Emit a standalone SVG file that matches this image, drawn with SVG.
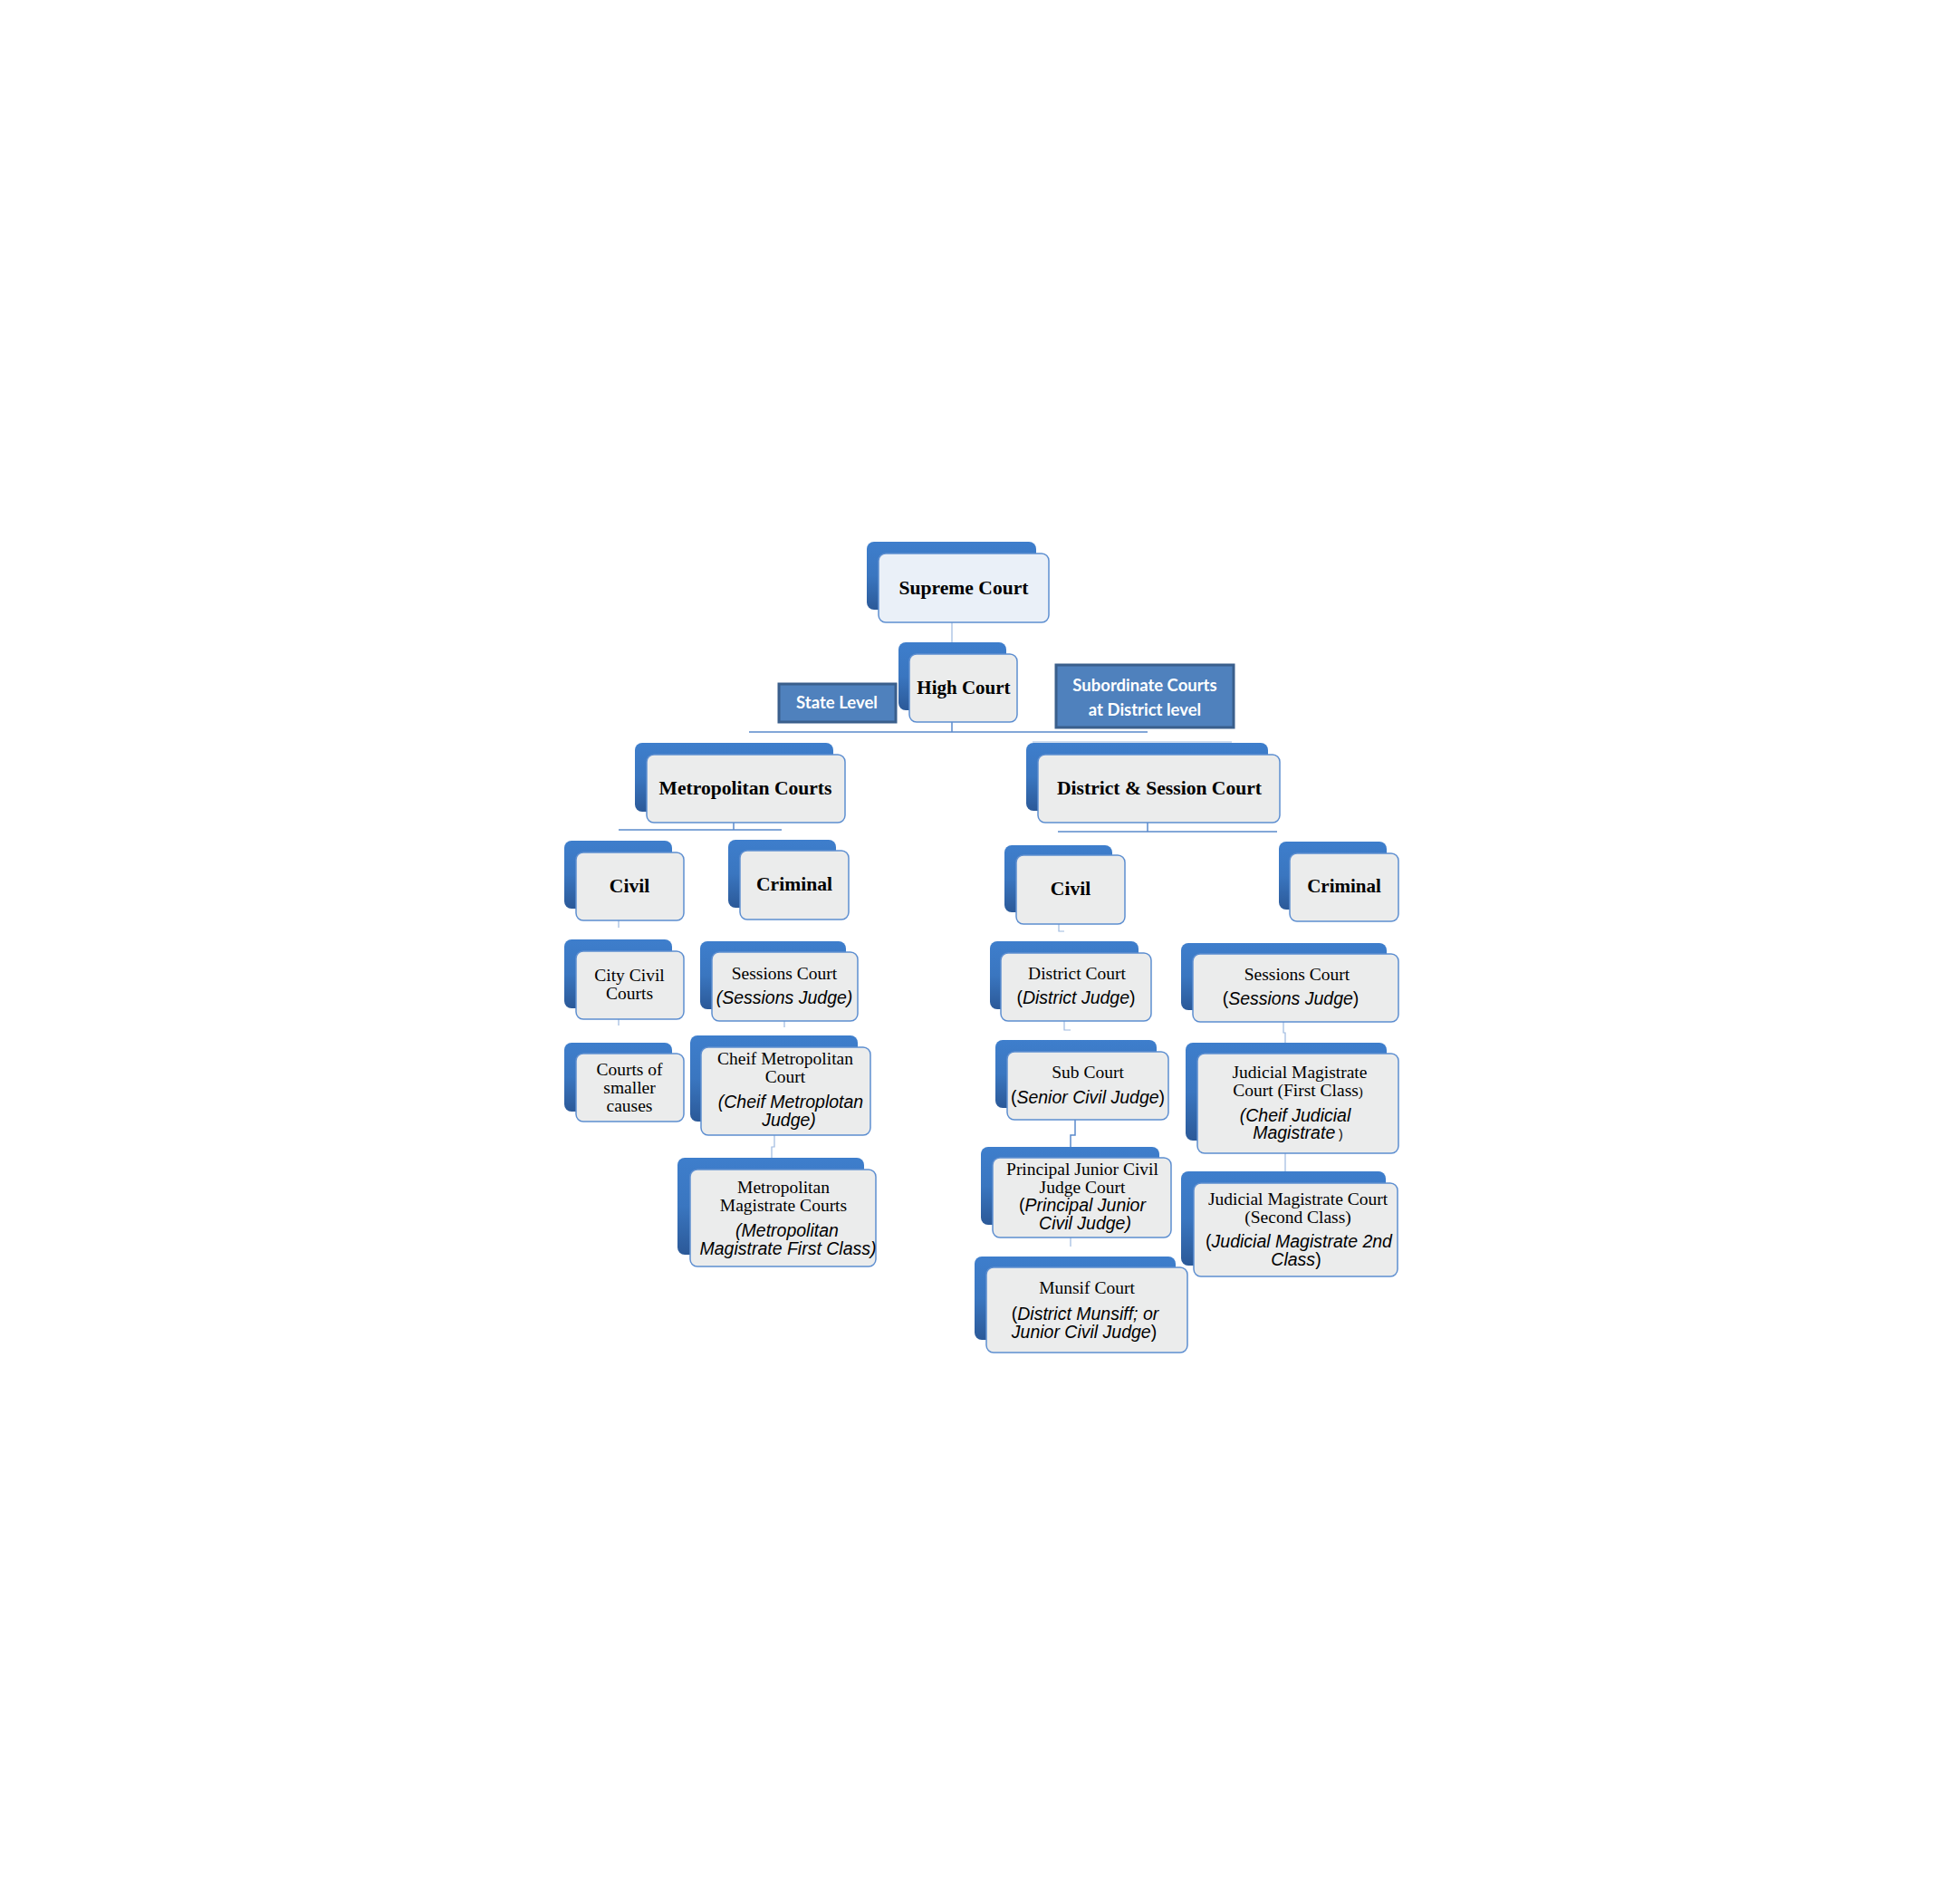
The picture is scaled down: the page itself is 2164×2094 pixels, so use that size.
<svg xmlns="http://www.w3.org/2000/svg" width="2164" height="2094" viewBox="0 0 2164 2094">
<defs>
<linearGradient id="bg" x1="0" y1="0" x2="0" y2="1">
<stop offset="0" stop-color="#3E7ECC"/>
<stop offset="0.5" stop-color="#3A76C0"/>
<stop offset="1" stop-color="#2B5998"/>
</linearGradient>
<style>
.back{fill:url(#bg);}
.front{fill:#EBECEC;stroke:#5D8ED0;stroke-width:1.5;}
.front2{fill:#EAF0F8;stroke:#5D8ED0;stroke-width:1.5;}
.lab{fill:#4F81BD;stroke:#3A5F8C;stroke-width:3;}
.labt{font-family:Lato,"Open Sans",sans-serif;font-weight:bold;font-size:18.5px;fill:#FFFFFF;text-anchor:middle;}
.t{font-family:"Liberation Serif",serif;font-weight:bold;font-size:21.6px;fill:#000;text-anchor:middle;}
.r{font-family:"Liberation Serif",serif;font-size:19.5px;fill:#000;text-anchor:middle;}
.i{font-family:"Liberation Sans",sans-serif;font-style:italic;font-size:19.5px;fill:#000;text-anchor:middle;}
.u{font-style:normal;}
.c{stroke:#5B8ACB;stroke-width:1.5;fill:none;}
.cf{stroke:#9DB9E0;stroke-width:1.2;fill:none;}
</style>
</defs>
<rect width="2164" height="2094" fill="#FFFFFF"/>
<g id="connectors">
<path class="cf" d="M1051 673 V722"/>
<path class="c" d="M1051 797 V808 M827 808 H1267"/>
<path class="cf" d="M1140 819 H1360"/>
<path class="c" d="M810 908 V916 M683 916 H863"/>
<path class="c" d="M1267 908 V918 M1168 918 H1410"/>
<path class="cf" d="M683 1016 V1024 M683 1125 V1132 M866 1127 V1134 M855 1253 V1266 H852 V1278"/>
<path class="cf" d="M1169 1020 V1028 H1175 M1175 1127 V1137 H1182 M1417 1128 V1140 H1419 V1151"/>
<path class="c" d="M1187 1236 V1253 H1182 V1266"/>
<path class="cf" d="M1182 1366 V1376 M1419 1273 V1293"/>
</g>
<g id="state-level">
<rect class="lab" x="860" y="755" width="129" height="42"/>
<text class="labt" x="924" y="782">State Level</text>
</g>
<g id="subordinate-label">
<rect class="lab" x="1166" y="734" width="196" height="69"/>
<text class="labt" x="1264" y="763">Subordinate Courts</text>
<text class="labt" x="1264" y="790">at District level</text>
</g>
<g id="supreme-court">
<rect class="back" x="957" y="598" width="187" height="75" rx="8"/>
<rect class="front2" x="970" y="611" width="188" height="76" rx="8"/>
<text class="t" x="1064" y="656">Supreme Court</text>
</g>
<g id="high-court">
<rect class="back" x="992" y="709" width="119" height="75" rx="8"/>
<rect class="front" x="1004" y="722" width="119" height="75" rx="8"/>
<text class="t" x="1064" y="766" style="font-size:21px">High Court</text>
</g>
<g id="metropolitan-courts">
<rect class="back" x="701" y="820" width="219" height="76" rx="8"/>
<rect class="front" x="714" y="833" width="219" height="75" rx="8"/>
<text class="t" x="823" y="877">Metropolitan Courts</text>
</g>
<g id="district-session-court">
<rect class="back" x="1133" y="820" width="267" height="75" rx="8"/>
<rect class="front" x="1146" y="833" width="267" height="75" rx="8"/>
<text class="t" x="1280" y="877">District &amp; Session Court</text>
</g>
<g id="metro-civil">
<rect class="back" x="623" y="928" width="119" height="75" rx="8"/>
<rect class="front" x="636" y="941" width="119" height="75" rx="8"/>
<text class="t" x="695" y="985">Civil</text>
</g>
<g id="metro-criminal">
<rect class="back" x="804" y="927" width="119" height="75" rx="8"/>
<rect class="front" x="817" y="939" width="120" height="76" rx="8"/>
<text class="t" x="877" y="983">Criminal</text>
</g>
<g id="district-civil">
<rect class="back" x="1109" y="933" width="119" height="74" rx="8"/>
<rect class="front" x="1122" y="944" width="120" height="76" rx="8"/>
<text class="t" x="1182" y="988">Civil</text>
</g>
<g id="district-criminal">
<rect class="back" x="1412" y="929" width="119" height="75" rx="8"/>
<rect class="front" x="1424" y="942" width="120" height="75" rx="8"/>
<text class="t" x="1484" y="985" style="font-size:21px">Criminal</text>
</g>
<g id="city-civil-courts">
<rect class="back" x="623" y="1037" width="119" height="76" rx="8"/>
<rect class="front" x="636" y="1050" width="119" height="75" rx="8"/>
<text class="r" x="695" y="1083">City Civil</text>
<text class="r" x="695" y="1103">Courts</text>
</g>
<g id="metro-sessions-court">
<rect class="back" x="773" y="1039" width="161" height="75" rx="8"/>
<rect class="front" x="786" y="1051" width="161" height="76" rx="8"/>
<text class="r" x="866" y="1081">Sessions Court</text>
<text class="i" x="866" y="1108">(Sessions Judge)</text>
</g>
<g id="courts-smaller-causes">
<rect class="back" x="623" y="1151" width="119" height="76" rx="8"/>
<rect class="front" x="636" y="1163" width="119" height="75" rx="8"/>
<text class="r" x="695" y="1187">Courts of</text>
<text class="r" x="695" y="1207">smaller</text>
<text class="r" x="695" y="1227">causes</text>
</g>
<g id="cheif-metropolitan-court">
<rect class="back" x="762" y="1143" width="185" height="95" rx="8"/>
<rect class="front" x="774" y="1156" width="187" height="97" rx="8"/>
<text class="r" x="867" y="1175">Cheif Metropolitan</text>
<text class="r" x="867" y="1195">Court</text>
<text class="i" x="873" y="1223">(Cheif Metroplotan</text>
<text class="i" x="871" y="1243">Judge)</text>
</g>
<g id="metropolitan-magistrate-courts">
<rect class="back" x="748" y="1278" width="206" height="107" rx="8"/>
<rect class="front" x="762" y="1291" width="205" height="107" rx="8"/>
<text class="r" x="865" y="1317">Metropolitan</text>
<text class="r" x="865" y="1337">Magistrate Courts</text>
<text class="i" x="869" y="1365">(Metropolitan</text>
<text class="i" x="870" y="1385">Magistrate First Class)</text>
</g>
<g id="district-court">
<rect class="back" x="1093" y="1039" width="164" height="75" rx="8"/>
<rect class="front" x="1105" y="1052" width="166" height="75" rx="8"/>
<text class="r" x="1189" y="1081">District Court</text>
<text class="i" x="1188" y="1108"><tspan class="u">(</tspan>District Judge<tspan class="u">)</tspan></text>
</g>
<g id="district-sessions-court">
<rect class="back" x="1304" y="1041" width="227" height="74" rx="8"/>
<rect class="front" x="1317" y="1053" width="227" height="75" rx="8"/>
<text class="r" x="1432" y="1082">Sessions Court</text>
<text class="i" x="1425" y="1109"><tspan class="u">(</tspan>Sessions Judge<tspan class="u">)</tspan></text>
</g>
<g id="sub-court">
<rect class="back" x="1099" y="1148" width="178" height="75" rx="8"/>
<rect class="front" x="1112" y="1161" width="178" height="75" rx="8"/>
<text class="r" x="1201" y="1190">Sub Court</text>
<text class="i" x="1201" y="1218"><tspan class="u">(</tspan>Senior Civil Judge<tspan class="u">)</tspan></text>
</g>
<g id="judicial-magistrate-first-class">
<rect class="back" x="1309" y="1151" width="222" height="108" rx="8"/>
<rect class="front" x="1322" y="1163" width="222" height="110" rx="8"/>
<text class="r" x="1435" y="1190">Judicial Magistrate</text>
<text class="r" x="1433" y="1210">Court (First Class<tspan style="font-size:15px">)</tspan></text>
<text class="i" x="1430" y="1238">(Cheif Judicial</text>
<text class="i" x="1433" y="1257">Magistrate<tspan class="u" style="font-size:14px"> )</tspan></text>
</g>
<g id="principal-junior-civil-judge-court">
<rect class="back" x="1083" y="1266" width="197" height="86" rx="8"/>
<rect class="front" x="1096" y="1278" width="197" height="88" rx="8"/>
<text class="r" x="1195" y="1297">Principal Junior Civil</text>
<text class="r" x="1195" y="1317">Judge Court</text>
<text class="i" x="1195" y="1337"><tspan class="u">(</tspan>Principal Junior</text>
<text class="i" x="1198" y="1357">Civil Judge)</text>
</g>
<g id="judicial-magistrate-second-class">
<rect class="back" x="1304" y="1293" width="226" height="104" rx="8"/>
<rect class="front" x="1318" y="1306" width="225" height="103" rx="8"/>
<text class="r" x="1433" y="1330">Judicial Magistrate Court</text>
<text class="r" x="1433" y="1350">(Second Class)</text>
<text class="i" x="1434" y="1377"><tspan class="u">(</tspan>Judicial Magistrate 2nd</text>
<text class="i" x="1431" y="1397">Class<tspan class="u">)</tspan></text>
</g>
<g id="munsif-court">
<rect class="back" x="1076" y="1387" width="222" height="92" rx="8"/>
<rect class="front" x="1089" y="1399" width="222" height="94" rx="8"/>
<text class="r" x="1200" y="1428">Munsif Court</text>
<text class="i" x="1198" y="1457"><tspan class="u">(</tspan>District Munsiff; or</text>
<text class="i" x="1197" y="1477">Junior Civil Judge<tspan class="u">)</tspan></text>
</g>
</svg>
